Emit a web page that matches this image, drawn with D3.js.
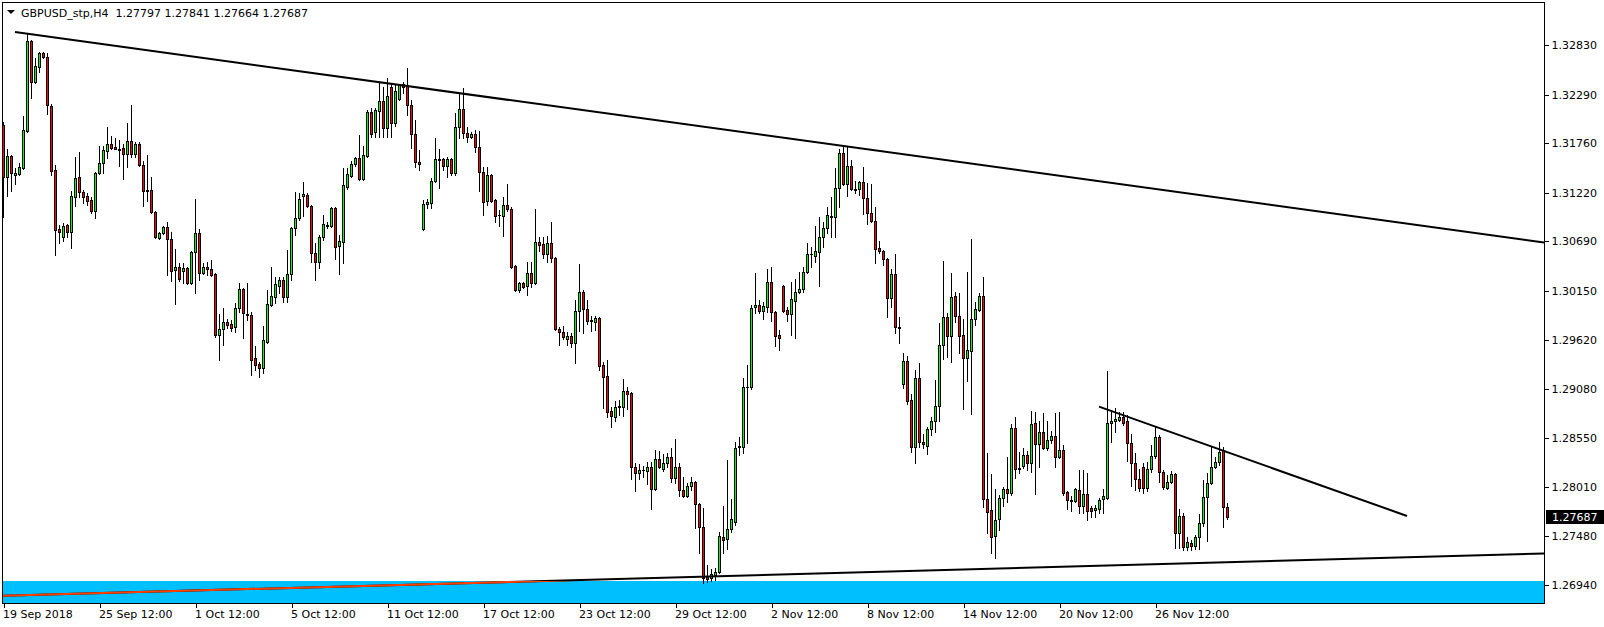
<!DOCTYPE html>
<html>
<head>
<meta charset="utf-8">
<script src="https://cdn.jsdelivr.net/npm/d3@7"></script>
<style>
  html, body { margin: 0; padding: 0; background: #fff; }
  svg { display: block; font-family: "DejaVu Sans", Verdana, sans-serif; font-size: 11px; }
</style>
</head>
<body>
<script>
const width = 1604;
const height = 627;
const plot = { left: 2, top: 2, right: 1544, bottom: 603 };

// header
const symbolTitle = "GBPUSD_stp,H4";
const lastQuote = [1.27797, 1.27841, 1.27664, 1.27687];

// right axis labels
const priceTicks = [1.32830, 1.32290, 1.31760, 1.31220, 1.30690, 1.30150,
  1.29620, 1.29080, 1.28550, 1.28010, 1.27480, 1.26940];

// bottom axis: bar index -> label
const timeTickBars = [0, 24, 48, 72, 96, 120, 144, 168, 192, 216, 240, 264, 288];
const timeTickLabels = ["19 Sep 2018", "25 Sep 12:00", "1 Oct 12:00", "5 Oct 12:00",
  "11 Oct 12:00", "17 Oct 12:00", "23 Oct 12:00", "29 Oct 12:00", "2 Nov 12:00",
  "8 Nov 12:00", "14 Nov 12:00", "20 Nov 12:00", "26 Nov 12:00"];

// H4 bars, [open, high, low, close]
const ohlc = [
  [1.31958,1.31991,1.30956,1.31392],[1.31392,1.31697,1.31185,1.31621],[1.31621,1.31632,1.31239,1.31435],[1.31414,1.31490,1.31315,1.31435],
  [1.31424,1.31544,1.31414,1.31501],[1.31490,1.32057,1.31479,1.31904],[1.31893,1.32961,1.31882,1.32874],[1.32874,1.32885,1.32253,1.32427],
  [1.32427,1.32689,1.32416,1.32602],[1.32591,1.32754,1.32536,1.32743],[1.32743,1.32754,1.32689,1.32700],[1.32700,1.32743,1.32078,1.32177],
  [1.32166,1.32187,1.31414,1.31457],[1.31468,1.31523,1.30541,1.30814],[1.30825,1.30869,1.30672,1.30792],[1.30738,1.30890,1.30694,1.30858],
  [1.30869,1.30879,1.30738,1.30792],[1.30792,1.31239,1.30618,1.31185],[1.31174,1.31610,1.31076,1.31381],[1.31392,1.31664,1.31174,1.31228],
  [1.31228,1.31250,1.31108,1.31174],[1.31185,1.31217,1.31087,1.31130],[1.31141,1.31174,1.30999,1.31021],[1.31021,1.31446,1.30945,1.31435],
  [1.31435,1.31730,1.31424,1.31544],[1.31544,1.31730,1.31435,1.31686],[1.31675,1.31937,1.31599,1.31751],[1.31751,1.31839,1.31697,1.31708],
  [1.31713,1.31817,1.31697,1.31702],[1.31697,1.31795,1.31512,1.31691],[1.31708,1.31751,1.31370,1.31642],[1.31642,1.31980,1.31501,1.31784],
  [1.31784,1.32177,1.31610,1.31642],[1.31642,1.31773,1.31610,1.31751],[1.31751,1.31773,1.31512,1.31523],[1.31523,1.31566,1.31076,1.31239],
  [1.31250,1.31632,1.31130,1.31234],[1.31250,1.31392,1.30999,1.31010],[1.31010,1.31021,1.30727,1.30738],[1.30727,1.30792,1.30716,1.30781],
  [1.30781,1.30858,1.30770,1.30847],[1.30847,1.30901,1.30324,1.30716],[1.30716,1.30792,1.30258,1.30367],[1.30378,1.30607,1.30007,1.30411],
  [1.30411,1.30454,1.30258,1.30280],[1.30367,1.30454,1.30236,1.30400],[1.30400,1.30411,1.30225,1.30236],[1.30236,1.30585,1.30225,1.30574],
  [1.30574,1.31152,1.30127,1.30781],[1.30781,1.30825,1.30269,1.30345],[1.30345,1.30454,1.30334,1.30411],[1.30411,1.30465,1.30324,1.30389],
  [1.30389,1.30487,1.30313,1.30324],[1.30334,1.30345,1.29648,1.29670],[1.29670,1.29898,1.29397,1.29735],[1.29735,1.29964,1.29561,1.29811],
  [1.29811,1.29844,1.29746,1.29779],[1.29789,1.29833,1.29713,1.29746],[1.29757,1.30018,1.29702,1.29964],[1.29964,1.30236,1.29920,1.30171],
  [1.30171,1.30182,1.29637,1.29909],[1.29898,1.30236,1.29833,1.29882],[1.29888,1.29920,1.29234,1.29397],[1.29419,1.29550,1.29288,1.29343],
  [1.29353,1.29375,1.29212,1.29310],[1.29310,1.29768,1.29255,1.29615],[1.29593,1.30160,1.29582,1.30007],[1.29997,1.30411,1.29986,1.30095],
  [1.30084,1.30302,1.30018,1.30225],[1.30204,1.30302,1.30127,1.30269],[1.30269,1.30302,1.30029,1.30084],[1.30084,1.30596,1.30029,1.30334],
  [1.30334,1.30847,1.30269,1.30836],[1.30836,1.31228,1.30760,1.30945],[1.30945,1.31217,1.30923,1.31152],[1.31188,1.31337,1.30967,1.31203],
  [1.31196,1.31217,1.31065,1.31076],[1.31076,1.31087,1.30465,1.30563],[1.30563,1.30672,1.30269,1.30465],[1.30465,1.30760,1.30400,1.30738],
  [1.30738,1.30978,1.30705,1.30879],[1.30863,1.30901,1.30836,1.30852],[1.30858,1.31065,1.30847,1.31054],[1.31054,1.31065,1.30498,1.30629],
  [1.30640,1.30760,1.30334,1.30694],[1.30683,1.31490,1.30454,1.31304],[1.31283,1.31490,1.31261,1.31424],[1.31403,1.31566,1.31392,1.31533],
  [1.31533,1.31610,1.31512,1.31599],[1.31599,1.31850,1.31359,1.31370],[1.31370,1.31730,1.31359,1.31632],[1.31621,1.32122,1.31610,1.32100],
  [1.32100,1.32144,1.31828,1.31860],[1.31882,1.32144,1.31828,1.32122],[1.32111,1.32427,1.31828,1.32220],[1.32220,1.32373,1.31828,1.31926],
  [1.31926,1.32471,1.31828,1.32275],[1.32373,1.32416,1.31828,1.31980],[1.31980,1.32395,1.31948,1.32329],[1.32242,1.32405,1.32231,1.32395],
  [1.32405,1.32427,1.32307,1.32373],[1.32395,1.32580,1.32068,1.32177],[1.32177,1.32231,1.31708,1.31860],[1.31860,1.32013,1.31501,1.31555],
  [1.31555,1.31686,1.31468,1.31533],[1.30825,1.31141,1.30814,1.31097],[1.31097,1.31152,1.31054,1.31119],[1.31108,1.31381,1.31054,1.31348],
  [1.31348,1.31817,1.31337,1.31588],[1.31588,1.31697,1.31272,1.31577],[1.31588,1.31599,1.31468,1.31512],[1.31512,1.31610,1.31392,1.31588],
  [1.31588,1.31599,1.31414,1.31435],[1.31435,1.32089,1.31414,1.31937],[1.31937,1.32307,1.31817,1.32133],[1.32133,1.32362,1.31817,1.31871],
  [1.31871,1.31937,1.31773,1.31828],[1.31828,1.31882,1.31817,1.31860],[1.31860,1.31904,1.31664,1.31719],[1.31719,1.31893,1.31239,1.31446],
  [1.31446,1.31501,1.30978,1.31119],[1.31130,1.31501,1.31087,1.31414],[1.31414,1.31424,1.31119,1.31130],[1.31141,1.31152,1.30901,1.30967],
  [1.30978,1.31032,1.30858,1.30972],[1.30967,1.31174,1.30749,1.31087],[1.31087,1.31315,1.31021,1.31043],[1.31043,1.31065,1.30400,1.30411],
  [1.30422,1.30433,1.30149,1.30160],[1.30160,1.30247,1.30138,1.30236],[1.30236,1.30247,1.30182,1.30193],[1.30204,1.30465,1.30106,1.30345],
  [1.30345,1.30465,1.30193,1.30236],[1.30236,1.31043,1.30225,1.30683],[1.30683,1.30738,1.30585,1.30651],[1.30661,1.30738,1.30509,1.30552],
  [1.30552,1.30749,1.30465,1.30672],[1.30672,1.30901,1.30465,1.30509],[1.30509,1.30520,1.29724,1.29735],[1.29735,1.29757,1.29561,1.29702],
  [1.29702,1.29768,1.29626,1.29648],[1.29626,1.29702,1.29561,1.29659],[1.29659,1.29691,1.29539,1.29582],[1.29582,1.30051,1.29364,1.29931],
  [1.29931,1.30443,1.29713,1.30138],[1.30138,1.30160,1.29691,1.29953],[1.29953,1.30051,1.29789,1.29822],[1.29828,1.29877,1.29713,1.29817],
  [1.29811,1.29877,1.29724,1.29855],[1.29855,1.29866,1.29288,1.29332],[1.29343,1.29375,1.28874,1.29212],[1.29223,1.29397,1.28776,1.28830],
  [1.28841,1.28885,1.28667,1.28787],[1.28776,1.28950,1.28732,1.28885],[1.28879,1.28961,1.28798,1.28890],[1.28885,1.29190,1.28787,1.29059],
  [1.29059,1.29103,1.28863,1.29026],[1.29037,1.29048,1.28100,1.28231],[1.28231,1.28274,1.27969,1.28165],[1.28165,1.28263,1.28100,1.28198],
  [1.28198,1.28242,1.28122,1.28193],[1.28187,1.28285,1.28045,1.28231],[1.28231,1.28285,1.27773,1.27991],[1.27991,1.28416,1.27980,1.28318],
  [1.28318,1.28405,1.28220,1.28231],[1.28209,1.28372,1.28187,1.28274],[1.28274,1.28383,1.28231,1.28340],[1.28340,1.28438,1.28067,1.28111],
  [1.28111,1.28536,1.28056,1.28231],[1.28231,1.28274,1.27915,1.27980],[1.27980,1.28122,1.27904,1.27915],[1.27915,1.28056,1.27904,1.28024],
  [1.28024,1.28122,1.27980,1.28067],[1.28067,1.28078,1.27566,1.27827],[1.27827,1.27838,1.27293,1.27577],[1.27577,1.27784,1.26966,1.27021],
  [1.27032,1.27163,1.26977,1.27010],[1.27021,1.27119,1.26988,1.27064],[1.27054,1.27130,1.26999,1.27086],[1.27086,1.27522,1.27075,1.27479],
  [1.27468,1.27806,1.27293,1.27435],[1.27446,1.28307,1.27337,1.27555],[1.27555,1.27882,1.27522,1.27664],[1.27631,1.28503,1.27599,1.28438],
  [1.28454,1.28558,1.28362,1.28449],[1.28449,1.29201,1.28383,1.29103],[1.29103,1.29343,1.28492,1.29097],[1.29103,1.29997,1.29081,1.29964],
  [1.29975,1.30345,1.29909,1.29997],[1.29997,1.30051,1.29909,1.29931],[1.29931,1.30029,1.29844,1.29986],[1.29975,1.30389,1.29920,1.30247],
  [1.30247,1.30411,1.29822,1.29920],[1.29920,1.29931,1.29550,1.29659],[1.29670,1.29724,1.29506,1.29637],[1.30204,1.30215,1.29920,1.29931],
  [1.29942,1.29975,1.29822,1.29898],[1.29898,1.30247,1.29670,1.30062],[1.30040,1.30280,1.29637,1.30138],[1.30138,1.30356,1.30127,1.30171],
  [1.30171,1.30411,1.30138,1.30356],[1.30356,1.30672,1.30345,1.30552],[1.30552,1.30629,1.30411,1.30547],[1.30531,1.30858,1.30465,1.30585],
  [1.30574,1.30956,1.30204,1.30738],[1.30738,1.30901,1.30629,1.30836],[1.30836,1.31065,1.30781,1.30978],[1.30967,1.31174,1.30738,1.30956],
  [1.30956,1.31490,1.30738,1.31272],[1.31272,1.31697,1.31065,1.31653],[1.31653,1.31741,1.31304,1.31315],[1.31315,1.31719,1.31185,1.31512],
  [1.31512,1.31577,1.31250,1.31261],[1.31266,1.31348,1.31217,1.31255],[1.31261,1.31348,1.31196,1.31337],[1.31337,1.31501,1.30988,1.31163],
  [1.31163,1.31326,1.30879,1.30999],[1.30999,1.31315,1.30901,1.30912],[1.30912,1.31065,1.30454,1.30607],[1.30618,1.30694,1.30563,1.30585],
  [1.30585,1.30596,1.30433,1.30498],[1.30498,1.30509,1.29866,1.30073],[1.30073,1.30389,1.29975,1.30334],[1.30334,1.30552,1.29691,1.29757],
  [1.29757,1.29866,1.29582,1.29746],[1.29135,1.29473,1.29092,1.29386],[1.29386,1.29441,1.28917,1.28950],[1.28961,1.29026,1.28394,1.28449],
  [1.28449,1.29288,1.28274,1.29201],[1.29201,1.29364,1.28449,1.28503],[1.28503,1.28590,1.28438,1.28481],[1.28460,1.28667,1.28372,1.28645],
  [1.28645,1.28776,1.28580,1.28732],[1.28732,1.29179,1.28612,1.28896],[1.28896,1.29800,1.28732,1.29561],[1.29561,1.30476,1.29408,1.29866],
  [1.29866,1.29909,1.29430,1.29659],[1.29659,1.30345,1.29375,1.30084],[1.30095,1.30138,1.29811,1.29877],[1.29877,1.30127,1.29473,1.29659],
  [1.29670,1.29844,1.28863,1.29419],[1.29419,1.30356,1.29168,1.29506],[1.29495,1.30716,1.28808,1.29844],[1.29844,1.30029,1.29779,1.29953],
  [1.29942,1.30127,1.29931,1.30095],[1.30095,1.30302,1.27795,1.27882],[1.27882,1.28383,1.27511,1.27740],[1.27762,1.28154,1.27293,1.27468],
  [1.27479,1.27991,1.27239,1.27653],[1.27664,1.27926,1.27544,1.27893],[1.27893,1.28013,1.27806,1.27991],[1.27991,1.28340,1.27849,1.27947],
  [1.27947,1.28699,1.27926,1.28656],[1.28656,1.28776,1.28111,1.28209],[1.28220,1.28394,1.28165,1.28214],[1.28242,1.28438,1.28220,1.28362],
  [1.28362,1.28405,1.28198,1.28274],[1.28274,1.28841,1.28176,1.28699],[1.28710,1.28830,1.27936,1.28481],[1.28481,1.28732,1.28231,1.28612],
  [1.28612,1.28819,1.28427,1.28438],[1.28438,1.28732,1.28416,1.28525],[1.28525,1.28623,1.28492,1.28569],[1.28569,1.28819,1.28231,1.28340],
  [1.28340,1.28830,1.28329,1.28416],[1.28416,1.28471,1.27926,1.27947],[1.27958,1.27969,1.27773,1.27871],[1.27866,1.27915,1.27751,1.27860],
  [1.27860,1.28002,1.27849,1.27991],[1.27980,1.28198,1.27729,1.27806],[1.27806,1.28198,1.27729,1.27936],[1.27936,1.28165,1.27653,1.27751],
  [1.27784,1.27806,1.27686,1.27751],[1.27762,1.27817,1.27686,1.27784],[1.27773,1.27893,1.27729,1.27871],[1.27882,1.27991,1.27729,1.27915],
  [1.27893,1.29277,1.27882,1.28710],[1.28710,1.28852,1.28503,1.28732],[1.28732,1.28874,1.28612,1.28754],[1.28743,1.28830,1.28732,1.28776],
  [1.28776,1.28830,1.28689,1.28710],[1.28732,1.28798,1.28296,1.28492],[1.28492,1.28590,1.28024,1.28274],[1.28274,1.28383,1.27980,1.28100],
  [1.28100,1.28209,1.27969,1.28002],[1.28231,1.28274,1.27947,1.28002],[1.28002,1.28285,1.27969,1.28209],[1.28209,1.28471,1.28176,1.28351],
  [1.28351,1.28667,1.28329,1.28558],[1.28558,1.28580,1.28067,1.28176],[1.28176,1.28198,1.27991,1.28013],[1.28002,1.28144,1.27991,1.28067],
  [1.28067,1.28187,1.28056,1.28154],[1.28154,1.28165,1.27348,1.27511],[1.27511,1.27773,1.27348,1.27697],[1.27697,1.27729,1.27326,1.27359],
  [1.27359,1.27468,1.27326,1.27413],[1.27402,1.27435,1.27326,1.27370],[1.27370,1.27490,1.27337,1.27468],[1.27468,1.27718,1.27337,1.27620],
  [1.27620,1.28089,1.27588,1.27904],[1.27904,1.28165,1.27424,1.28056],[1.28056,1.28449,1.28045,1.28231],[1.28231,1.28340,1.28220,1.28285],
  [1.28285,1.28503,1.28253,1.28394],[1.28416,1.28449,1.27577,1.27795],[1.27797,1.27841,1.27664,1.27687]
];

// drawn objects: [bar index, price]
const upperTrend = [[3, 1.32972], [385.25, 1.30678]];
const lowerTrend = [[-1, 1.26825], [385.25, 1.27288]];
const shortTrend = [[274, 1.28888], [351, 1.27697]];
const supportZone = [1.26988, 1.26000]; // top, bottom

const svg = d3.select("body").append("svg")
  .attr("width", width)
  .attr("height", height);

let x = d3.scaleLinear().domain([0, ohlc.length - 1]).range([3, 3 + 4 * (ohlc.length - 1)]);
let y = d3.scaleLinear().domain([1.26748, 1.33288]).range([plot.bottom, plot.top + 1]);

let defs = svg.append("defs");
defs.append("clipPath").attr("id", "plotClip").append("rect")
  .attr("x", plot.left + 1).attr("y", plot.top + 1)
  .attr("width", plot.right - plot.left - 1).attr("height", plot.bottom - plot.top - 1);
defs.append("clipPath").attr("id", "zoneClip").append("rect")
  .attr("x", plot.left + 1).attr("y", Math.round(y(supportZone[0])))
  .attr("width", plot.right - plot.left - 1).attr("height", plot.bottom - Math.round(y(supportZone[0])));

// support zone (blue box at the bottom)
svg.append("rect")
  .attr("clip-path", "url(#plotClip)")
  .attr("x", plot.left + 1)
  .attr("y", Math.round(y(supportZone[0])))
  .attr("width", plot.right - plot.left - 1)
  .attr("height", Math.round(y(supportZone[1])) - Math.round(y(supportZone[0])))
  .attr("fill", "#00bfff");

// candles
let candles = svg.append("g")
  .attr("clip-path", "url(#plotClip)")
  .attr("shape-rendering", "crispEdges")
  .selectAll("g")
  .data(ohlc)
  .join("g");

let cx = (i) => Math.round(x(i));
let bodyTop = (d) => Math.round(y(Math.max(d[0], d[3])));
let bodyBottom = (d) => Math.round(y(Math.min(d[0], d[3])));

candles.append("rect")
  .attr("x", (d, i) => cx(i))
  .attr("y", (d) => Math.round(y(d[1])))
  .attr("width", 1)
  .attr("height", (d) => Math.round(y(d[2])) - Math.round(y(d[1])) + 1)
  .attr("fill", "#000");

candles.append("rect")
  .attr("x", (d, i) => cx(i) - 1)
  .attr("y", bodyTop)
  .attr("width", 3)
  .attr("height", (d) => bodyBottom(d) - bodyTop(d) + 1)
  .attr("fill", "#000");

candles.filter((d) => bodyBottom(d) - bodyTop(d) >= 2)
  .append("rect")
  .attr("x", function () { return +d3.select(this.parentNode).select("rect").attr("x"); })
  .attr("y", (d) => bodyTop(d) + 1)
  .attr("width", 1)
  .attr("height", (d) => bodyBottom(d) - bodyTop(d) - 1)
  .attr("fill", (d) => (d[3] >= d[0] ? "#00ff00" : "#ff0000"));

// trend lines
let trendLine = d3.line().x((d) => x(d[0])).y((d) => y(d[1]));
let lines = svg.append("g").attr("clip-path", "url(#plotClip)");

[upperTrend, lowerTrend, shortTrend].forEach((pts) => {
  lines.append("path")
    .attr("d", trendLine(pts))
    .attr("fill", "none")
    .attr("stroke", "#000")
    .attr("stroke-width", 2);
});

// the part of the support line over the blue box shows inverted (orange-red)
svg.append("path")
  .attr("clip-path", "url(#zoneClip)")
  .attr("d", trendLine(lowerTrend))
  .attr("fill", "none")
  .attr("stroke", "#ff4000")
  .attr("stroke-width", 2);

// frame
svg.append("rect")
  .attr("x", plot.left + 0.5)
  .attr("y", plot.top + 0.5)
  .attr("width", plot.right - plot.left)
  .attr("height", plot.bottom - plot.top)
  .attr("fill", "none")
  .attr("stroke", "#000")
  .attr("shape-rendering", "crispEdges");

// price axis
let yAxis = svg.append("g")
  .attr("transform", `translate(${plot.right + 0.5},0)`)
  .call(d3.axisRight(y).tickValues(priceTicks).tickFormat(d3.format(".5f")).tickSize(4).tickPadding(3).tickSizeOuter(0));
yAxis.select(".domain").remove();
yAxis.selectAll("line").attr("stroke", "#000").attr("shape-rendering", "crispEdges");
yAxis.selectAll("text").attr("fill", "#000").style("font-family", "DejaVu Sans").style("font-size", "11px");

// last price tag
let lastY = Math.round(y(lastQuote[3]));
svg.append("rect")
  .attr("x", plot.right + 2).attr("y", lastY - 7)
  .attr("width", 58).attr("height", 14)
  .attr("fill", "#000");
svg.append("text")
  .attr("x", plot.right + 8).attr("y", lastY + 4)
  .attr("fill", "#fff")
  .text(d3.format(".5f")(lastQuote[3]));

// time axis
let xAxis = svg.append("g")
  .attr("transform", `translate(0.5,${plot.bottom + 0.5})`)
  .call(d3.axisBottom(x).tickValues(timeTickBars)
    .tickFormat((d, i) => timeTickLabels[i]).tickSize(4).tickPadding(3).tickSizeOuter(0));
xAxis.select(".domain").remove();
xAxis.selectAll("line").attr("stroke", "#000").attr("shape-rendering", "crispEdges");
xAxis.selectAll("text")
  .attr("text-anchor", "start")
  .attr("x", -1)
  .attr("fill", "#000")
  .style("font-family", "DejaVu Sans")
  .style("font-size", "11px");

// header
svg.append("path").attr("d", "M7,10 L15,10 L11,14 Z").attr("fill", "#000");
svg.append("text")
  .attr("x", 21).attr("y", 17)
  .attr("fill", "#000")
  .style("white-space", "pre")
  .text(symbolTitle + "  " + lastQuote.map(d3.format(".5f")).join(" "));
</script>
</body>
</html>
